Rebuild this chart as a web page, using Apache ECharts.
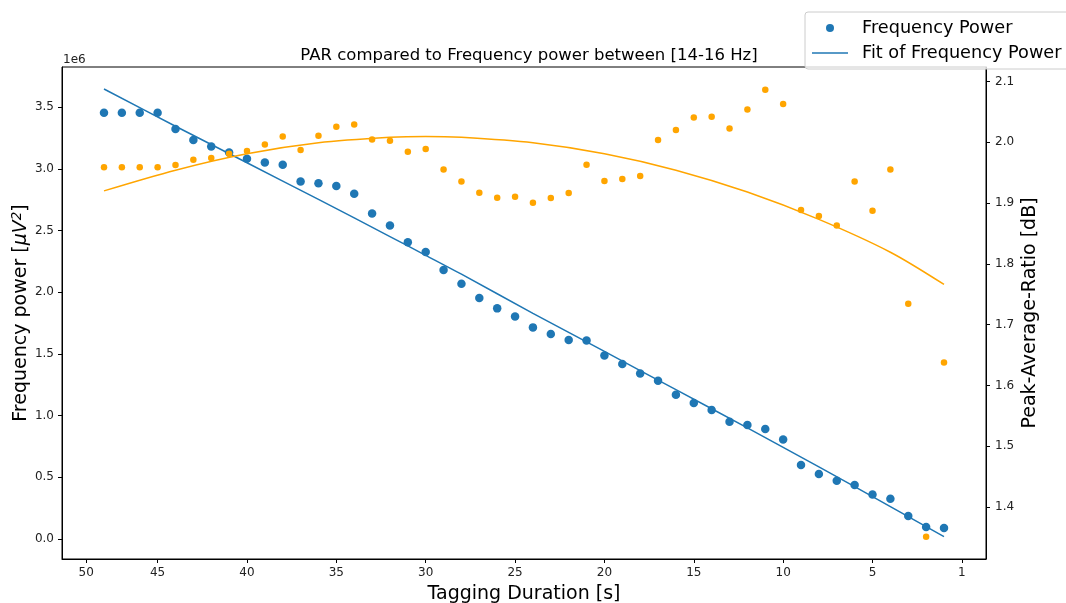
<!DOCTYPE html>
<html>
<head>
<meta charset="utf-8">
<script src="https://cdn.jsdelivr.net/npm/echarts@6/dist/echarts.min.js"></script>
<style>
html,body{margin:0;padding:0;background:#fff;}
#chart{width:1066px;height:603px;}
</style>
</head>
<body>
<div id="chart"></div>
<script>
// x positions of the samples (axis units), tick positions and tick labels
const xPositions = [48,47,46,45,44,43,42,41,40,39,38,37,36,35,34,33,32,31,30,29,28,27,26,25,24,23,22,21,20,19,18,17,16,15,14,13,12,11,10,9,8,7,6,5,4,3,2,1];
const xTickPositions = [49,45,40,35,30,25,20,15,10,5,0];
const xTickLabels = ['50','45','40','35','30','25','20','15','10','5','1'];

// Frequency power (x1e6 µV²)
const powerValues = [3.454,3.454,3.454,3.454,3.323,3.233,3.181,3.133,3.082,3.052,3.033,2.898,2.882,2.861,2.798,2.637,
  2.541,2.404,2.326,2.180,2.069,1.953,1.869,1.804,
  1.715,1.661,1.613,1.609,1.488,1.418,1.342,1.283,1.169,1.102,1.045,0.951,0.924,0.891,0.807,
  0.600,0.527,0.472,0.438,0.361,0.327,0.186,0.097,0.089];

// Peak-Average-Ratio (dB)
const parValues = [1.959,1.959,1.959,1.959,1.9625,1.971,1.974,1.981,1.9855,1.9964,2.0095,1.987,2.0107,2.0255,2.0293,2.0046,
  2.0025,1.9844,1.9888,1.9553,1.9355,1.9169,1.9087,1.9104,1.9005,1.9082,1.9164,1.963,1.9362,1.9395,1.9444,2.0036,
  2.0201,2.0408,2.0419,2.0227,2.0539,2.0863,2.0628,1.8885,1.8786,1.8632,1.9355,1.8873,1.9553,1.7344,1.351,1.6378];

// fit curves (sampled)
const fitX = [48,44,40,36,32,30,28,24,20,16,12,8,4,1];
const powerFit = [3.647,3.345,3.049,2.752,2.451,2.299,2.146,1.829,1.520,1.210,0.901,0.584,0.263,0.019];
const parFit = [1.920,1.954,1.981,1.999,2.008,2.0095,2.008,1.999,1.981,1.954,1.918,1.873,1.819,1.766];

const leftTicks = [0,0.5,1.0,1.5,2.0,2.5,3.0,3.5];
const rightTicks = [1.4,1.5,1.6,1.7,1.8,1.9,2.0,2.1];

const BLUE = '#1f77b4', ORANGE = '#ffa500';
const FONT = 'DejaVu Sans';

const chart = echarts.init(document.getElementById('chart'), null, {renderer:'canvas'});
const pair = (xs, ys) => xs.map((x, i) => [x, ys[i]]);

const axisCommon = {
  axisLine: {show: true, onZero: false, lineStyle: {color: '#000', width: 1}},
  axisTick: {show: true, length: 4, lineStyle: {color: '#000', width: 1}},
  splitLine: {show: false},
  axisLabel: {color: '#222', fontFamily: FONT, fontSize: 12},
  nameMoveOverlap: false,
  nameTextStyle: {color: '#000', fontFamily: FONT, fontSize: 19}
};

chart.setOption({
  animation: false,
  backgroundColor: '#fff',
  textStyle: {fontFamily: FONT},
  title: {
    text: 'PAR compared to Frequency power between [14-16 Hz]',
    left: 524, textAlign: 'center', top: 42,
    textStyle: {fontFamily: FONT, fontSize: 16.5, fontWeight: 'normal', color: '#000'}
  },
  graphic: [{
    type: 'text', left: 63, top: 54,
    style: {text: '1e6', font: '12px "DejaVu Sans"', fill: '#222'}
  }],
  legend: {
    left: 805, top: 12, orient: 'vertical',
    padding: [7, 40, 7, 7], itemGap: 7,
    itemWidth: 36, itemHeight: 8,
    borderColor: '#cccccc', borderWidth: 1, borderRadius: 3,
    backgroundColor: 'rgba(255,255,255,0.8)',
    textStyle: {fontFamily: FONT, fontSize: 17.7, color: '#000', padding: [0, 0, 0, 9]},
    data: [
      {name: 'Frequency Power', icon: 'circle'},
      {name: 'Fit of Frequency Power', icon: 'path://M0 0H36V1.5H0Z'}
    ]
  },
  grid: {left: 62, right: 80, top: 67, bottom: 44, show: true, borderColor: '#000', borderWidth: 1,
         containLabel: false, outerBoundsMode: 'none'},
  xAxis: Object.assign({}, axisCommon, {
    type: 'value', inverse: true, min: -1.35, max: 50.35,
    name: 'Tagging Duration [s]', nameLocation: 'middle', nameGap: 26,
    axisTick: Object.assign({}, axisCommon.axisTick, {customValues: xTickPositions}),
    axisLabel: Object.assign({}, axisCommon.axisLabel, {
      customValues: xTickPositions, margin: 8,
      formatter: v => xTickLabels[xTickPositions.indexOf(v)]
    })
  }),
  yAxis: [
    Object.assign({}, axisCommon, {
      type: 'value', position: 'left', min: -0.162, max: 3.825,
      name: 'Frequency power [{i|μV}{s|2}]', nameLocation: 'middle', nameGap: 29, nameRotate: 90,
      nameTextStyle: Object.assign({}, axisCommon.nameTextStyle, {
        rich: {
          i: {fontFamily: FONT, fontSize: 19, fontStyle: 'italic', color: '#000'},
          s: {fontFamily: FONT, fontSize: 13.5, fontStyle: 'italic', color: '#000', padding: [0, 0, 9, 0]}
        }
      }),
      axisTick: Object.assign({}, axisCommon.axisTick, {customValues: leftTicks}),
      axisLabel: Object.assign({}, axisCommon.axisLabel, {customValues: leftTicks, margin: 8, formatter: v => v.toFixed(1)})
    }),
    Object.assign({}, axisCommon, {
      type: 'value', position: 'right', min: 1.3145, max: 2.1237,
      name: 'Peak-Average-Ratio [dB]', nameLocation: 'middle', nameGap: 35, nameRotate: 90,
      axisTick: Object.assign({}, axisCommon.axisTick, {customValues: rightTicks}),
      axisLabel: Object.assign({}, axisCommon.axisLabel, {customValues: rightTicks, margin: 9, formatter: v => v.toFixed(1)})
    })
  ],
  series: [
    {
      name: 'Frequency Power', type: 'scatter', yAxisIndex: 0,
      symbolSize: 8.5, itemStyle: {color: BLUE, opacity: 1},
      data: pair(xPositions, powerValues), z: 2
    },
    {
      name: 'Fit of Frequency Power', type: 'line', yAxisIndex: 0,
      showSymbol: false, symbol: 'none', smooth: 0.3,
      itemStyle: {color: BLUE}, lineStyle: {color: BLUE, width: 1.5},
      data: pair(fitX, powerFit), z: 3
    },
    {
      name: 'PAR', type: 'scatter', yAxisIndex: 1,
      symbolSize: 6.5, itemStyle: {color: ORANGE, opacity: 1},
      data: pair(xPositions, parValues), z: 4
    },
    {
      name: 'Fit of PAR', type: 'line', yAxisIndex: 1,
      showSymbol: false, symbol: 'none', smooth: 0.3,
      itemStyle: {color: ORANGE}, lineStyle: {color: ORANGE, width: 1.5},
      data: pair(fitX, parFit), z: 5
    }
  ]
});
</script>
</body>
</html>
